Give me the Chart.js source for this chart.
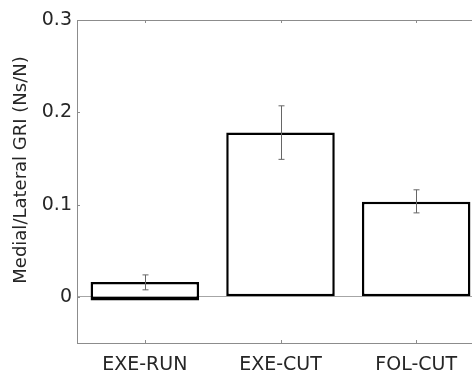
<!DOCTYPE html>
<html>
<head>
<meta charset="utf-8">
<script src="https://cdn.jsdelivr.net/npm/chart.js@4.4.1/dist/chart.umd.min.js"></script>
<style>
    body { margin: 0; overflow: hidden; background: #fff; }
    #wrap { width: 472px; height: 372px; overflow: hidden; }
</style>
</head>
<body>
<div id="wrap">
    <canvas id="griChart" width="488" height="372"></canvas>
</div>
<script>
// GRI bar data
const categories = ['EXE-RUN', 'EXE-CUT', 'FOL-CUT'];
const barBase = [-0.004, 0, 0];
const meanValues = [0.016, 0.178, 0.103];
const errLow = [0.0076, 0.149, 0.091];
const errHigh = [0.0238, 0.207, 0.116];
const yTicks = [0, 0.1, 0.2, 0.3];
const yTitle = 'Medial/Lateral GRI (Ns/N)';

const axisColor = '#8c8c8c';
const textColor = '#262626';
const fontFamily = '"DejaVu Sans", sans-serif';

// inward ticks, top box line, error bars and the y title
const decorPlugin = {
    id: 'decor',
    afterDatasetsDraw(chart) {
        const ctx = chart.ctx;
        const area = chart.chartArea;
        const x = chart.scales.x;
        const y = chart.scales.y;
        ctx.save();
        ctx.strokeStyle = axisColor;
        ctx.lineWidth = 1;
        ctx.beginPath();
        ctx.moveTo(area.left, area.top + 0.5);
        ctx.lineTo(area.right, area.top + 0.5);
        x.ticks.forEach((t, i) => {
            const px = Math.round(x.getPixelForTick(i)) + 0.5;
            ctx.moveTo(px, area.bottom);
            ctx.lineTo(px, area.bottom - 3);
            ctx.moveTo(px, area.top);
            ctx.lineTo(px, area.top + 3);
        });
        y.ticks.forEach((t, i) => {
            const py = Math.round(y.getPixelForTick(i)) + 0.5;
            ctx.moveTo(area.left, py);
            ctx.lineTo(area.left + 3, py);
        });
        ctx.stroke();

        ctx.strokeStyle = '#666';
        ctx.beginPath();
        categories.forEach((c, i) => {
            const px = Math.round(x.getPixelForValue(i)) + 0.5;
            const top = y.getPixelForValue(errHigh[i]);
            const bot = y.getPixelForValue(errLow[i]);
            ctx.moveTo(px, top);
            ctx.lineTo(px, bot);
            ctx.moveTo(px - 3, top);
            ctx.lineTo(px + 3, top);
            ctx.moveTo(px - 3, bot);
            ctx.lineTo(px + 3, bot);
        });
        ctx.stroke();

        // y title sits a bit above the axis centre, as in the original
        ctx.translate(21, 170);
        ctx.rotate(-Math.PI / 2);
        ctx.fillStyle = textColor;
        ctx.font = '18px ' + fontFamily;
        ctx.textAlign = 'center';
        ctx.textBaseline = 'middle';
        ctx.fillText(yTitle, 0, 0);
        ctx.restore();
    }
};

function initGriChart() {
    const ctx = document.getElementById('griChart').getContext('2d');
    new Chart(ctx, {
        type: 'bar',
        data: {
            labels: categories,
            datasets: [{
                data: meanValues.map((v, i) => [barBase[i], v]),
                backgroundColor: '#ffffff',
                borderColor: '#000000',
                borderWidth: [
                    { top: 2.5, left: 2.5, right: 2.5, bottom: 4 },
                    2.5,
                    2.5
                ],
                borderSkipped: false,
                categoryPercentage: 0.8,
                barPercentage: 1
            }]
        },
        options: {
            responsive: false,
            animation: false,
            layout: { padding: { top: 20, right: 4, left: 0, bottom: 0 } },
            plugins: {
                legend: { display: false },
                tooltip: { enabled: false }
            },
            scales: {
                x: {
                    grid: { display: false },
                    border: { display: true, color: axisColor },
                    ticks: {
                        color: textColor,
                        font: { family: fontFamily, size: 19 },
                        padding: 3,
                        maxRotation: 0
                    },
                    afterFit: function(scale) { scale.height = 29; }
                },
                y: {
                    min: -0.05,
                    max: 0.3,
                    afterBuildTicks: function(scale) {
                        scale.ticks = yTicks.map(v => ({ value: v }));
                    },
                    grid: {
                        drawTicks: false,
                        color: c => (c.tick && c.tick.value === 0) ? '#a6a6a6' : 'rgba(0,0,0,0)'
                    },
                    border: { display: true, color: axisColor },
                    ticks: {
                        color: textColor,
                        font: { family: fontFamily, size: 19 },
                        padding: 5,
                        callback: v => v === 0 ? '0' : v.toFixed(1)
                    },
                    afterFit: function(scale) { scale.width = 77; }
                }
            }
        },
        plugins: [decorPlugin]
    });
}

document.addEventListener('DOMContentLoaded', initGriChart);
</script>
</body>
</html>
